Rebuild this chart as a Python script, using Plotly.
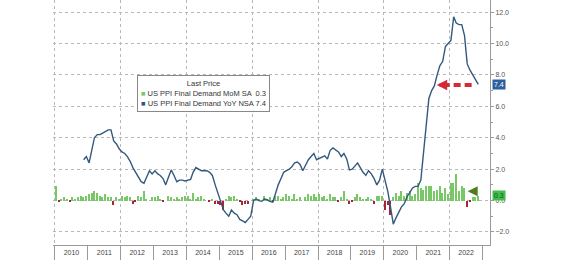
import pandas as pd
import plotly.graph_objects as go

# ---- data ----
start_month = "2010-01-01"
mom = [
    # 2010
    0.9, -0.1, 0.1, 0.2, 0.1, -0.1, 0.2, 0.1, 0.2, 0.3, 0.2, 0.3,
    # 2011
    0.4, 0.5, 0.6, 0.5, 0.3, 0.2, 0.4, 0.2, 0.2, -0.3, 0.2, 0.1,
    # 2012
    0.3, 0.2, 0.3, 0.2, -0.2, -0.1, 0.3, 0.2, 0.6, 0.1, 0.0, 0.2,
    # 2013
    0.2, 0.3, 0.1, -0.1, 0.0, 0.3, 0.2, 0.1, 0.2, 0.1, 0.2, 0.3,
    # 2014
    0.3, 0.1, 0.5, 0.1, 0.2, 0.3, 0.1, 0.0, -0.1, 0.1, -0.2, -0.2,
    # 2015
    -0.3, -0.6, 0.1, 0.3, 0.2, 0.3, 0.1, -0.1, -0.3, -0.2, -0.2, 0.0,
    # 2016
    0.1, 0.2, 0.1, 0.0, 0.3, 0.1, 0.2, -0.1, 0.3, 0.3, 0.1, 0.2,
    # 2017
    0.4, 0.3, 0.1, 0.4, 0.1, 0.2, 0.0, 0.2, 0.4, 0.3, 0.4, 0.2,
    # 2018
    0.4, 0.2, 0.3, 0.1, 0.4, 0.2, 0.2, -0.1, 0.2, 0.6, 0.1, -0.2,
    # 2019
    -0.1, 0.2, 0.4, 0.2, 0.1, 0.1, 0.2, 0.1, -0.2, 0.3, 0.3, 0.3,
    # 2020
    -0.6, -0.3, -0.9, 0.2, 0.5, 0.3, 0.6, 0.3, 0.5, 0.6, 0.3, 0.4,
    # 2021
    1.1, 0.8, 0.7, 0.95, 0.95, 0.9, 0.6, 0.7, 0.9, 0.5, 0.8, 0.4,
    # 2022
    1.1, 1.1, 1.7, 0.6, 0.9, 0.8, -0.4, -0.1, 0.2, 0.2, 0.3,
]

yoy_start_index = 10  # Nov 2010
yoy = [
    2.6, 2.8,
    2.4, 3.3, 4.0, 4.2, 4.2, 4.3, 4.4, 4.5, 4.5, 3.8, 3.6, 3.3,
    3.1, 3.0, 2.8, 2.5, 2.1, 1.8, 1.5, 1.2, 1.1, 1.5, 1.9, 1.7,
    1.9, 1.7, 1.6, 1.4, 1.0, 1.5, 1.95, 1.6, 1.2, 1.3, 1.3, 1.25,
    1.3, 1.35, 1.8, 2.1, 2.0, 1.9, 1.9, 1.9, 1.8, 1.6, 1.0, 0.45,
    -0.1, -0.6, -0.8, -1.0, -0.6, -0.8, -0.9, -1.2, -1.3, -1.4, -1.2, -1.0,
    0.0, 0.1, 0.0, -0.05, 0.1, 0.05, -0.05, -0.1, 0.45, 1.0, 1.4, 1.8,
    1.9, 2.0, 2.15, 2.4, 2.45, 2.3, 1.9, 2.3, 2.6, 2.8, 3.0, 2.6,
    2.7, 2.8, 2.85, 2.65, 3.2, 3.35, 3.2, 3.1, 2.8, 3.0, 2.65, 1.95,
    2.0, 2.2, 2.4, 2.1, 1.8, 1.6, 1.9, 1.7, 1.4, 1.0, 1.3, 2.0,
    1.3, 0.55, -0.4, -1.5, -1.1, -0.7, -0.4, -0.2, 0.25, 0.5, 0.8, 0.9,
    0.9, 1.3, 2.8, 4.5, 6.5, 7.0, 7.3, 8.0, 8.6, 8.85, 9.8, 10.0,
    10.2, 11.7, 11.3, 11.2, 11.2, 10.5, 8.7, 8.3, 8.0, 7.7, 7.4,
]

series_names = ["US PPI Final Demand MoM SA", "US PPI Final Demand YoY NSA"]
last_mom = mom[-1]
last_yoy = yoy[-1]

# ---- styles ----
GREEN = "#78c868"
RED = "#a8223a"
BLUE = "#34597f"
GRID = "#b8b8b8"
AXIS = "#9a9a9a"
FONT = "Liberation Sans"

months = pd.date_range(start_month, periods=len(mom), freq="MS")
xmid = months + pd.Timedelta(days=14)
x_yoy = xmid[yoy_start_index:yoy_start_index + len(yoy)]

fig = go.Figure()
fig.add_trace(go.Bar(
    x=xmid, y=mom,
    marker=dict(color=[GREEN if v >= 0 else RED for v in mom], line=dict(width=0)),
    width=16 * 24 * 3600 * 1000,
    name=series_names[0], showlegend=False,
))
fig.add_trace(go.Scatter(
    x=x_yoy, y=yoy, mode="lines",
    line=dict(color=BLUE, width=1.4),
    name=series_names[1], showlegend=False,
))
# invisible helper on overlay axis for even-year grid
fig.add_trace(go.Scatter(x=[xmid[0]], y=[None], xaxis="x2", showlegend=False,
                         hoverinfo="skip"))

xr = ["2009-12-10", "2023-03-25"]
fig.update_layout(
    width=564, height=260,
    margin=dict(l=53, r=74, t=0, b=15),
    paper_bgcolor="white", plot_bgcolor="white",
    font=dict(family=FONT, size=7, color="#444"),
    bargap=0,
    xaxis=dict(
        type="date", range=xr,
        tick0="2010-01-01", dtick="M12", tickformat="%Y",
        ticklabelmode="period", ticks="outside", ticklen=15,
        tickcolor=AXIS, tickwidth=1,
        showgrid=False, showline=True, linecolor=AXIS, linewidth=1,
        zeroline=False, tickfont=dict(size=7, color="#444"),
        ticklabelstandoff=-14,
    ),
    xaxis2=dict(
        type="date", range=xr, overlaying="x", matches="x",
        tick0="2012-01-01", dtick="M24",
        showgrid=True, gridcolor=GRID, griddash="dot", gridwidth=1,
        showticklabels=False, ticks="", showline=False, zeroline=False,
    ),
    yaxis=dict(
        side="right", range=[-2.83, 12.77],
        tick0=0, dtick=2, tickformat=".1f",
        showgrid=True, gridcolor=GRID, griddash="dot", gridwidth=1,
        zeroline=False, showline=True, linecolor=AXIS, linewidth=1,
        ticks="outside", ticklen=3, tickcolor=AXIS,
        minor=dict(dtick=1, ticks="outside", ticklen=2, tickcolor=AXIS, showgrid=False),
        tickfont=dict(size=7, color="#555"),
    ),
)

# legend box
legend_text = (
    "Last Price<br>"
    f"<span style='color:{GREEN}'>■</span> {series_names[0]}  {last_mom:.1f}<br>"
    f"<span style='color:{BLUE}'>■</span> {series_names[1]} {last_yoy:.1f}"
)
fig.add_annotation(
    xref="paper", yref="paper", x=0.192, y=0.694,
    xanchor="left", yanchor="top", text=legend_text, showarrow=False,
    align="center", font=dict(family=FONT, size=7.5, color="#333"),
    bgcolor="white", bordercolor="#888", borderwidth=1, borderpad=3,
)

# right-side value tags
fig.add_annotation(
    xref="paper", yref="y", x=1.0, y=last_yoy, xanchor="left", yanchor="middle",
    text=f"{last_yoy:.1f}", showarrow=False, bgcolor="#2c5f9e",
    font=dict(family=FONT, size=7, color="white"), borderpad=1, xshift=2,
)
fig.add_annotation(
    xref="paper", yref="y", x=1.0, y=last_mom, xanchor="left", yanchor="middle",
    text=f"{last_mom:.1f}", showarrow=False, bgcolor="#3fc04a",
    font=dict(family=FONT, size=7, color="#1d4d1d"), borderpad=1, xshift=2,
)

# red dashed arrow
fig.add_shape(type="line", xref="x", yref="y",
              x0="2021-10-15", x1="2022-10-10", y0=7.36, y1=7.36,
              line=dict(color="#d42a35", width=4, dash="7px,4px"))
fig.add_annotation(
    xref="x", yref="y", x="2021-08-10", y=7.36,
    axref="x", ayref="y", ax="2021-10-20", ay=7.36,
    text="", showarrow=True, arrowhead=2, arrowsize=0.7, arrowwidth=3,
    arrowcolor="#d42a35",
)
# green arrow
fig.add_annotation(
    xref="x", yref="y", x="2022-07-20", y=0.6,
    axref="x", ayref="y", ax="2022-11-15", ay=0.6,
    text="", showarrow=True, arrowhead=2, arrowsize=0.8, arrowwidth=2.5,
    arrowcolor="#4e7d1e",
)

fig.write_html("out.html")
